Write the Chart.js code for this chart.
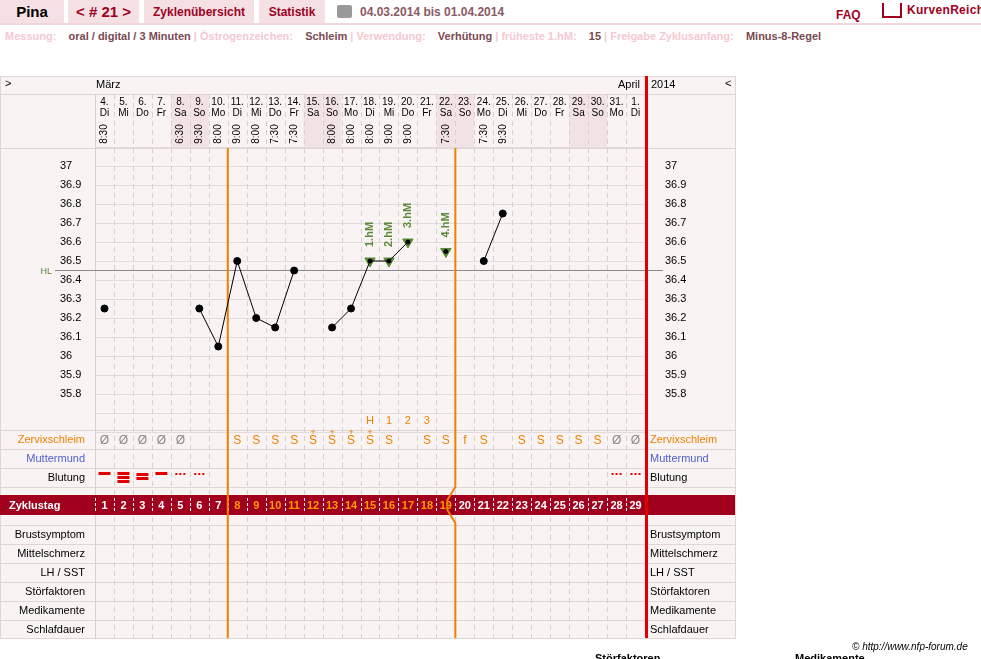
<!DOCTYPE html>
<html><head><meta charset="utf-8">
<script src="https://cdn.jsdelivr.net/npm/chart.js@4"></script>
<style>
body{margin:0;width:981px;height:659px;overflow:hidden;background:#fff;font-family:"Liberation Sans",Arial,sans-serif;position:relative}
.a{position:absolute;white-space:nowrap}
.tab{background:#f5e1e4;height:24px;top:0;font-weight:bold;font-size:12px;color:#a0001e;line-height:24px;text-align:center}
#c{position:absolute;left:0;top:0}
</style></head><body>
<div class="a tab" style="left:0;width:64px;color:#000;font-size:15px">Pina</div>
<div class="a tab" style="left:68px;width:71px;font-size:15px">&lt; # 21 &gt;</div>
<div class="a tab" style="left:144px;width:110px">Zyklenübersicht</div>
<div class="a tab" style="left:259px;width:66px">Statistik</div>
<div class="a" style="left:337px;top:5px;width:15px;height:13px;background:#999;border-radius:2px"></div>
<div class="a" style="left:360px;top:5px;font-size:12px;font-weight:bold;color:#8a5a64">04.03.2014 bis 01.04.2014</div>
<div class="a" style="left:836px;top:8px;font-size:12px;font-weight:bold;color:#a0001e">FAQ</div>
<div class="a" style="left:882px;top:3px;width:16px;height:13px;border:2px solid #a0001e;border-top:none"></div>
<div class="a" style="left:907px;top:3px;font-size:12px;font-weight:bold;color:#a0001e;letter-spacing:0.3px">KurvenReich</div>
<div class="a" style="left:0;top:23px;width:981px;height:2px;background:#f2d6da"></div>
<div class="a" style="left:5px;top:30px;font-size:11px;font-weight:bold;color:#f5c9cf">Messung:&nbsp;&nbsp;&nbsp; <span style="color:#7a4a52">oral / digital / 3 Minuten</span> | Östrogenzeichen:&nbsp;&nbsp;&nbsp; <span style="color:#7a4a52">Schleim</span> | Verwendung:&nbsp;&nbsp;&nbsp; <span style="color:#7a4a52">Verhütung</span> | früheste 1.hM:&nbsp;&nbsp;&nbsp; <span style="color:#7a4a52">15</span> | Freigabe Zyklusanfang:&nbsp;&nbsp;&nbsp; <span style="color:#7a4a52">Minus-8-Regel</span></div>
<canvas id="c" width="981" height="659"></canvas>
<div class="a" style="left:852px;top:641px;font-size:10px;font-style:italic;color:#000">© http://www.nfp-forum.de</div>
<div class="a" style="left:595px;top:652px;font-size:11px;font-weight:bold">Störfaktoren</div>
<div class="a" style="left:795px;top:652px;font-size:11px;font-weight:bold">Medikamente</div>
<script>
const dayNums=["4.","5.","6.","7.","8.","9.","10.","11.","12.","13.","14.","15.","16.","17.","18.","19.","20.","21.","22.","23.","24.","25.","26.","27.","28.","29.","30.","31.","1."];
const weekdays=["Di","Mi","Do","Fr","Sa","So","Mo","Di","Mi","Do","Fr","Sa","So","Mo","Di","Mi","Do","Fr","Sa","So","Mo","Di","Mi","Do","Fr","Sa","So","Mo","Di"];
const times=["8:30","","","","6:30","9:30","8:00","9:00","8:00","7:30","7:30","","8:00","8:00","8:00","9:00","9:00","","7:30","","7:30","9:30","","","","","","",""];
const temps=[36.25,null,null,null,null,36.25,36.05,36.5,36.2,36.15,36.45,null,36.15,36.25,36.5,36.5,36.6,null,36.55,null,36.5,36.75,null,null,null,null,null,null,null];
const hmLabels={15:"1.hM",16:"2.hM",17:"3.hM",19:"4.hM"};
const peakRow=["","","","","","","","","","","","","","","H","1","2","3","","","","","","","","","","",""];
const zervix=["Ø","Ø","Ø","Ø","Ø","","","S","S","S","S","S+","S+","S+","S+","S","","S","S","f","S","","S","S","S","S","S","Ø","Ø"];
const blutung=["s","m","m2","s","d","d","","","","","","","","","","","","","","","","","","","","","","d","d"];
const yTicks=[37,36.9,36.8,36.7,36.6,36.5,36.4,36.3,36.2,36.1,36,35.9,35.8];
const sideRows=["Brustsymptom","Mittelschmerz","LH / SST","Störfaktoren","Medikamente","Schlafdauer"];
const weekend=[5,6,12,13,19,20,26,27];
const coverline=36.45;
const labels=dayNums.map((d,i)=>i+1);

const F="'Liberation Sans',Arial,sans-serif";
const tablePlugin={id:'tab',
beforeDatasetsDraw(ch){
 const c=ch.ctx,x=ch.scales.x,y=ch.scales.y;
 const L=0,R=735,X0=x.getPixelForValue(0.5),X1=x.getPixelForValue(29.5),W=x.getPixelForValue(2)-x.getPixelForValue(1);
 const cx=d=>x.getPixelForValue(d);
 c.save();
 c.fillStyle='#f9f3f3';c.fillRect(L,76,R-L,562);
 c.fillStyle='#f2e2e5';
 weekend.forEach(d=>c.fillRect(cx(d)-W/2,94,W,54));
 c.strokeStyle='#e0d6d6';c.lineWidth=1;c.strokeRect(L+0.5,76.5,R-L,562);
 const hl=yy=>{c.beginPath();c.moveTo(L,yy+.5);c.lineTo(R,yy+.5);c.stroke();};
 [94,148,430,449,468,487,525,544,563,582,601,620].forEach(hl);
 c.strokeStyle='#e2dcdc';
 for(let v=35.6;v<=37.11;v+=0.1){const p=Math.round(y.getPixelForValue(v));c.beginPath();c.moveTo(X0,p+.5);c.lineTo(X1,p+.5);c.stroke();}
 c.setLineDash([5,4]);c.strokeStyle='#d8d0d0';
 for(let d=1;d<29;d++){const p=Math.round(cx(d)+W/2)+.5;c.beginPath();c.moveTo(p,94);c.lineTo(p,638);c.stroke();}
 c.setLineDash([]);
 c.beginPath();c.moveTo(Math.round(X0)+.5,94);c.lineTo(Math.round(X0)+.5,638);c.stroke();
 c.fillStyle='#000';c.font='11px '+F;c.textAlign='left';c.textBaseline='middle';
 c.fillText('>',5,84);c.fillText('März',96,85);c.fillText('2014',651,85);c.fillText('<',725,84);
 c.textAlign='right';c.fillText('April',640,85);
 c.textAlign='center';c.font='10px '+F;
 dayNums.forEach((d,i)=>{const p=cx(i+1);c.fillText(d,p,102);c.fillText(weekdays[i],p,113);
  if(times[i]){c.save();c.translate(p,134);c.rotate(-Math.PI/2);c.fillText(times[i],0,0);c.restore();}});
 c.font='11px '+F;c.fillStyle='#000';
 yTicks.forEach(v=>{const p=y.getPixelForValue(v);c.textAlign='left';c.fillText(String(v),60,p);c.fillText(String(v),665,p);});
 c.textAlign='right';c.fillStyle='#5a8a3a';c.font='9px '+F;c.fillText('HL',52,y.getPixelForValue(coverline)+1);
 c.strokeStyle='#8a8a8a';c.beginPath();const hp=Math.round(y.getPixelForValue(coverline))+.5;c.moveTo(55,hp);c.lineTo(663,hp);c.stroke();
 c.font='11px '+F;c.fillStyle='#f08000';c.textAlign='center';
 peakRow.forEach((t,i)=>{if(t)c.fillText(t,cx(i+1),421);});
 c.textAlign='right';
 c.fillStyle='#f08000';c.fillText('Zervixschleim',85,440);
 c.fillStyle='#5060d0';c.fillText('Muttermund',85,459);
 c.fillStyle='#000';c.fillText('Blutung',85,478);
 sideRows.forEach((s,i)=>c.fillText(s,85,535+19*i));
 c.textAlign='left';
 c.fillStyle='#f08000';c.fillText('Zervixschleim',650,440);
 c.fillStyle='#5060d0';c.fillText('Muttermund',650,459);
 c.fillStyle='#000';c.fillText('Blutung',650,478);
 sideRows.forEach((s,i)=>c.fillText(s,650,535+19*i));
 c.textAlign='center';c.font='12px '+F;
 zervix.forEach((z,i)=>{if(!z)return;const p=cx(i+1);
  c.fillStyle=z==='Ø'?'#888':'#f08000';c.fillText(z[0],p,441);
  if(z.length>1){c.font='9px '+F;c.fillText('+',p,433);c.font='12px '+F;}});
 c.fillStyle='#e00000';
 blutung.forEach((b,i)=>{const p=cx(i+1);
  if(b==='s')c.fillRect(p-6,472,12,3);
  if(b==='m2'){c.fillRect(p-6,473,12,3);c.fillRect(p-6,477,12,3);}
  if(b==='m'){c.fillRect(p-6,472,12,3);c.fillRect(p-6,476,12,3);c.fillRect(p-6,480,12,3);}
  if(b==='d'){[-4,0,4].forEach(o=>c.fillRect(p+o-1,473,2,2));}});
 c.fillStyle='#a0001e';c.fillRect(0,495,R,20);
 c.fillStyle='#fff';c.font='bold 11px '+F;c.textAlign='left';c.fillText('Zyklustag',9,506);
 c.textAlign='center';
 c.setLineDash([3,2]);c.strokeStyle='#fff';
 for(let d=1;d<=29;d++){const p=cx(d);c.fillStyle=(d>=8&&d<=19)?'#ff9a00':'#fff';c.fillText(String(d),p,506);
  const q=Math.round(p-W/2)+.5;c.beginPath();c.moveTo(q,498);c.lineTo(q,513);c.stroke();}
 c.setLineDash([]);
 c.strokeStyle='#f08000';c.lineWidth=2;
 const v1=cx(7.5),v2=cx(19.5);
 c.beginPath();c.moveTo(v1,148);c.lineTo(v1,638);c.stroke();
 c.beginPath();c.moveTo(v2,148);c.lineTo(v2,487);c.lineTo(v2-8,500);c.lineTo(v2-8,510);c.lineTo(v2,523);c.lineTo(v2,638);c.stroke();
 c.strokeStyle='#e00000';c.lineWidth=3;const v3=cx(29.5)+1.5;
 c.beginPath();c.moveTo(v3,76);c.lineTo(v3,638);c.stroke();
 c.restore();
},
afterDatasetsDraw(ch){
 const c=ch.ctx,x=ch.scales.x,y=ch.scales.y;
 c.save();c.font='bold 11px '+F;c.fillStyle='#5a8a3a';c.textAlign='left';c.textBaseline='middle';
 Object.keys(hmLabels).forEach(d=>{const p=x.getPixelForValue(+d),q=y.getPixelForValue(temps[d-1]);
  c.save();c.translate(p,q-14);c.rotate(-Math.PI/2);c.fillText(hmLabels[d],0,0);c.restore();});
 c.restore();}
};
const hm=temps.map((t,i)=>hmLabels[i+1]?t:null);
const pr=temps.map((t,i)=>hmLabels[i+1]?2:3.5);
new Chart(document.getElementById('c'),{type:'line',
 data:{labels,datasets:[
  {data:temps,borderColor:'#000',borderWidth:1,backgroundColor:'#000',pointRadius:pr,spanGaps:false,tension:0},
  {data:hm,showLine:false,pointStyle:'triangle',rotation:180,radius:6,backgroundColor:'#5a8a3a',borderColor:'#5a8a3a'}]},
 options:{responsive:false,animation:false,events:[],
  layout:{padding:{left:95,right:336,top:147,bottom:227}},
  plugins:{legend:{display:false},tooltip:{enabled:false}},
  scales:{x:{type:'linear',min:0.5,max:29.5,display:false},y:{min:35.6,max:37.1,display:false}}},
 plugins:[tablePlugin]});
</script></body></html>
